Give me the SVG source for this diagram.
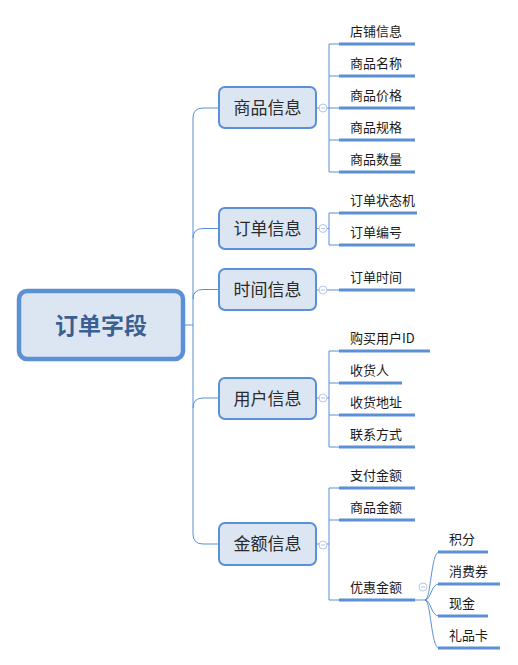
<svg xmlns="http://www.w3.org/2000/svg" width="518" height="665" viewBox="0 0 518 665">
<style>
.l1 rect{fill:#dce6f3;stroke:#5b8fd6;stroke-width:2}
.l1 text{font-family:"Noto Sans CJK SC",sans-serif;font-size:17px;fill:#2a2a2a;text-anchor:middle}
.t{font-family:"Noto Sans CJK SC",sans-serif;font-size:13px;fill:#1a1a1a}
.u{stroke:#5b8fd6;stroke-width:3;fill:none}
.c{stroke:#5b8fd6;stroke-width:1;fill:none}
.col{fill:#fff;stroke:#b4c6ea;stroke-width:1}
</style>
<rect width="518" height="665" fill="#fff"/>
<g id="connectors">
<path class="c" d="M185,325 L193,325"/>
<path class="c" d="M193,118 L193,534"/>
<path class="c" d="M193,118 Q193,108 203,108 L219,108"/>
<path class="c" d="M193,238 Q193,228.5 203,228.5 L219,228.5"/>
<path class="c" d="M193,299 Q193,289.5 203,289.5 L219,289.5"/>
<path class="c" d="M193,408 Q193,398 203,398 L219,398"/>
<path class="c" d="M193,534 Q193,544 203,544 L219,544"/>
<path class="c" d="M316,108 L329,108 M329,44 L329,172 M329,44 L339,44 M329,76 L339,76 M329,108 L339,108 M329,140 L339,140 M329,172 L339,172"/>
<path class="c" d="M316,228.5 L329,228.5 M329,213 L329,245 M329,213 L339,213 M329,245 L339,245"/>
<path class="c" d="M316,290 L339,290"/>
<path class="c" d="M316,398 L329,398 M329,351 L329,447 M329,351 L339,351 M329,383 L339,383 M329,415 L339,415 M329,447 L339,447"/>
<path class="c" d="M316,544 L329,544 M329,488 L329,600 M329,488 L339,488 M329,520 L339,520 M329,600 L339,600"/>
<path class="c" d="M415,600 L425,600 C431,600 431,552 439,552 M425,600 C431,600 431,584 439,584 M425,600 C431,600 431,616 439,616 M425,600 C431,600 431,648 439,648"/>
<path class="u" d="M339,44 H415 M339,76 H415 M339,108 H415 M339,140 H415 M339,172 H415"/>
<path class="u" d="M339,213 H417 M339,245 H415"/>
<path class="u" d="M339,290 H415"/>
<path class="u" d="M339,351 H430 M339,383 H402 M339,415 H415 M339,447 H415"/>
<path class="u" d="M339,488 H415 M339,520 H415 M339,600 H415"/>
<path class="u" d="M438,552 H488 M438,584 H500 M438,616 H488 M438,648 H500"/>
<g class="col">
<circle cx="323" cy="108" r="4"/><circle cx="323" cy="228.5" r="4"/><circle cx="323" cy="290" r="4"/><circle cx="323" cy="398" r="4"/><circle cx="323" cy="545" r="4"/><circle cx="423" cy="587" r="4"/>
</g>
<path d="M321,108 H325 M321,228.5 H325 M321,290 H325 M321,398 H325 M321,545 H325 M421,587 H425" stroke="#b4c6ea" stroke-width="1"/>
</g>
<g id="root">
<rect x="19" y="291" width="164" height="68" rx="8" fill="#dce6f3" stroke="#5b8fd6" stroke-width="4.5"/>
<text x="101" y="334" font-family="'Noto Sans CJK SC',sans-serif" font-size="23" font-weight="bold" fill="#3a5f90" text-anchor="middle">订单字段</text>
</g>
<g id="n-goods" class="l1"><rect x="219" y="87" width="97" height="41" rx="6"/><text x="267.5" y="113.5">商品信息</text></g>
<g id="n-order" class="l1"><rect x="219" y="208" width="97" height="41" rx="6"/><text x="267.5" y="234.5">订单信息</text></g>
<g id="n-time" class="l1"><rect x="219" y="269" width="97" height="41" rx="6"/><text x="267.5" y="295.5">时间信息</text></g>
<g id="n-user" class="l1"><rect x="219" y="378" width="97" height="41" rx="6"/><text x="267.5" y="404.5">用户信息</text></g>
<g id="n-amount" class="l1"><rect x="219" y="523" width="97" height="42" rx="6"/><text x="267.5" y="550">金额信息</text></g>
<g id="leaves">
<text class="t" x="350" y="35.5">店铺信息</text>
<text class="t" x="350" y="67.5">商品名称</text>
<text class="t" x="350" y="99.5">商品价格</text>
<text class="t" x="350" y="131.5">商品规格</text>
<text class="t" x="350" y="163.5">商品数量</text>
<text class="t" x="350" y="204.5">订单状态机</text>
<text class="t" x="350" y="236.5">订单编号</text>
<text class="t" x="350" y="281.5">订单时间</text>
<text class="t" x="350" y="342.5">购买用户ID</text>
<text class="t" x="350" y="374.5">收货人</text>
<text class="t" x="350" y="406.5">收货地址</text>
<text class="t" x="350" y="438.5">联系方式</text>
<text class="t" x="350" y="479.5">支付金额</text>
<text class="t" x="350" y="511.5">商品金额</text>
<text class="t" x="350" y="591.5">优惠金额</text>
<text class="t" x="449" y="543.5">积分</text>
<text class="t" x="449" y="575.5">消费券</text>
<text class="t" x="449" y="607.5">现金</text>
<text class="t" x="449" y="639.5">礼品卡</text>
</g>
</svg>
